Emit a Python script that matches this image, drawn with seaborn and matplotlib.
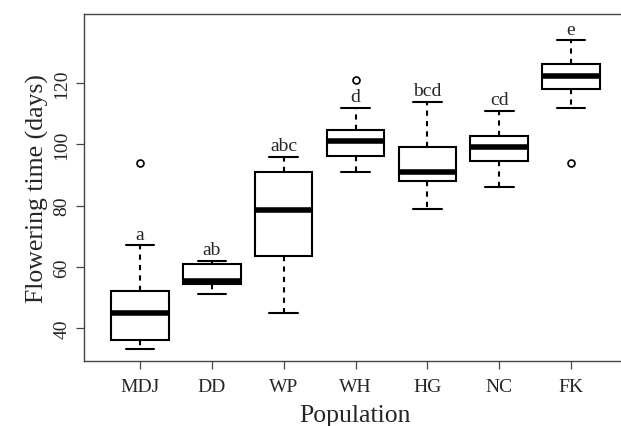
import numpy as np
import pandas as pd
import matplotlib
matplotlib.use("Agg")
import matplotlib.pyplot as plt
import seaborn as sns

# values (five-number summaries + outliers, padded so quartiles land right)
populations = ["MDJ", "DD", "WP", "WH", "HG", "NC", "FK"]
mdj = [33, 36, 36, 45, 45, 52, 52, 67, 94]
dd = [51, 54.5, 54.5, 55.3, 55.3, 55.3, 61, 61, 62]
wp = [45, 63.5, 63.5, 78.5, 78.5, 78.5, 91, 91, 96]
wh = [91, 96.2, 96.2, 101.2, 101.2, 104.6, 104.6, 112, 121]
hg = [79, 88, 88, 91, 91, 91, 99, 99, 114]
nc = [86, 94.7, 94.7, 99, 99, 99, 102.7, 102.7, 111]
fk = [94, 112, 118.2, 118.2, 122.2, 126.2, 126.2, 134, 134]
letters = ["a", "ab", "abc", "d", "bcd", "cd", "e"]

groups = [mdj, dd, wp, wh, hg, nc, fk]
df = pd.DataFrame({
    "Population": np.repeat(populations, [len(g) for g in groups]),
    "days": np.concatenate(groups),
})

sns.set_style("ticks")
plt.rcParams["font.family"] = ["Liberation Serif", "DejaVu Serif"]

fig = plt.figure(figsize=(6.21, 4.27), dpi=100)
ax = fig.add_axes([0.1353, 0.1522, 0.8744, 0.8127])

sns.boxplot(data=df, x="Population", y="days", order=populations,
            color="white", linecolor="black", linewidth=1.5, width=0.8,
            whiskerprops=dict(linestyle=(0, (2.5, 2.5))),
            medianprops=dict(linewidth=4, solid_capstyle="butt"),
            flierprops=dict(marker="o", markersize=5, markerfacecolor="none",
                            markeredgecolor="black", markeredgewidth=1.2),
            ax=ax)

# significance letters just above the upper whisker
for i, vals in enumerate(groups):
    v = np.array(vals)
    q1, q3 = np.percentile(v, [25, 75])
    hi = v[v <= q3 + 1.5 * (q3 - q1)].max()
    ax.text(i, hi + 0.9, letters[i], ha="center", va="bottom", fontsize=14)

ax.set_xlim(-0.78, 6.78)
ax.set_ylim(29.2, 142.6)
ax.set_yticks([40, 60, 80, 100, 120])
ax.tick_params(axis="both", length=6, width=0.9, color="#444444", labelsize=14)
ax.tick_params(axis="y", pad=4)
ax.tick_params(axis="x", pad=6)
for lab in ax.get_yticklabels():
    lab.set_rotation(90)
    lab.set_va("center")
for s in ax.spines.values():
    s.set_visible(True)
    s.set_color("#444444")
    s.set_linewidth(1.0)

ax.set_xlabel("Population", fontsize=18.5, labelpad=6.5)
ax.set_ylabel("Flowering time (days)", fontsize=18.5, labelpad=3)

fig.savefig("out.png", dpi=100)
